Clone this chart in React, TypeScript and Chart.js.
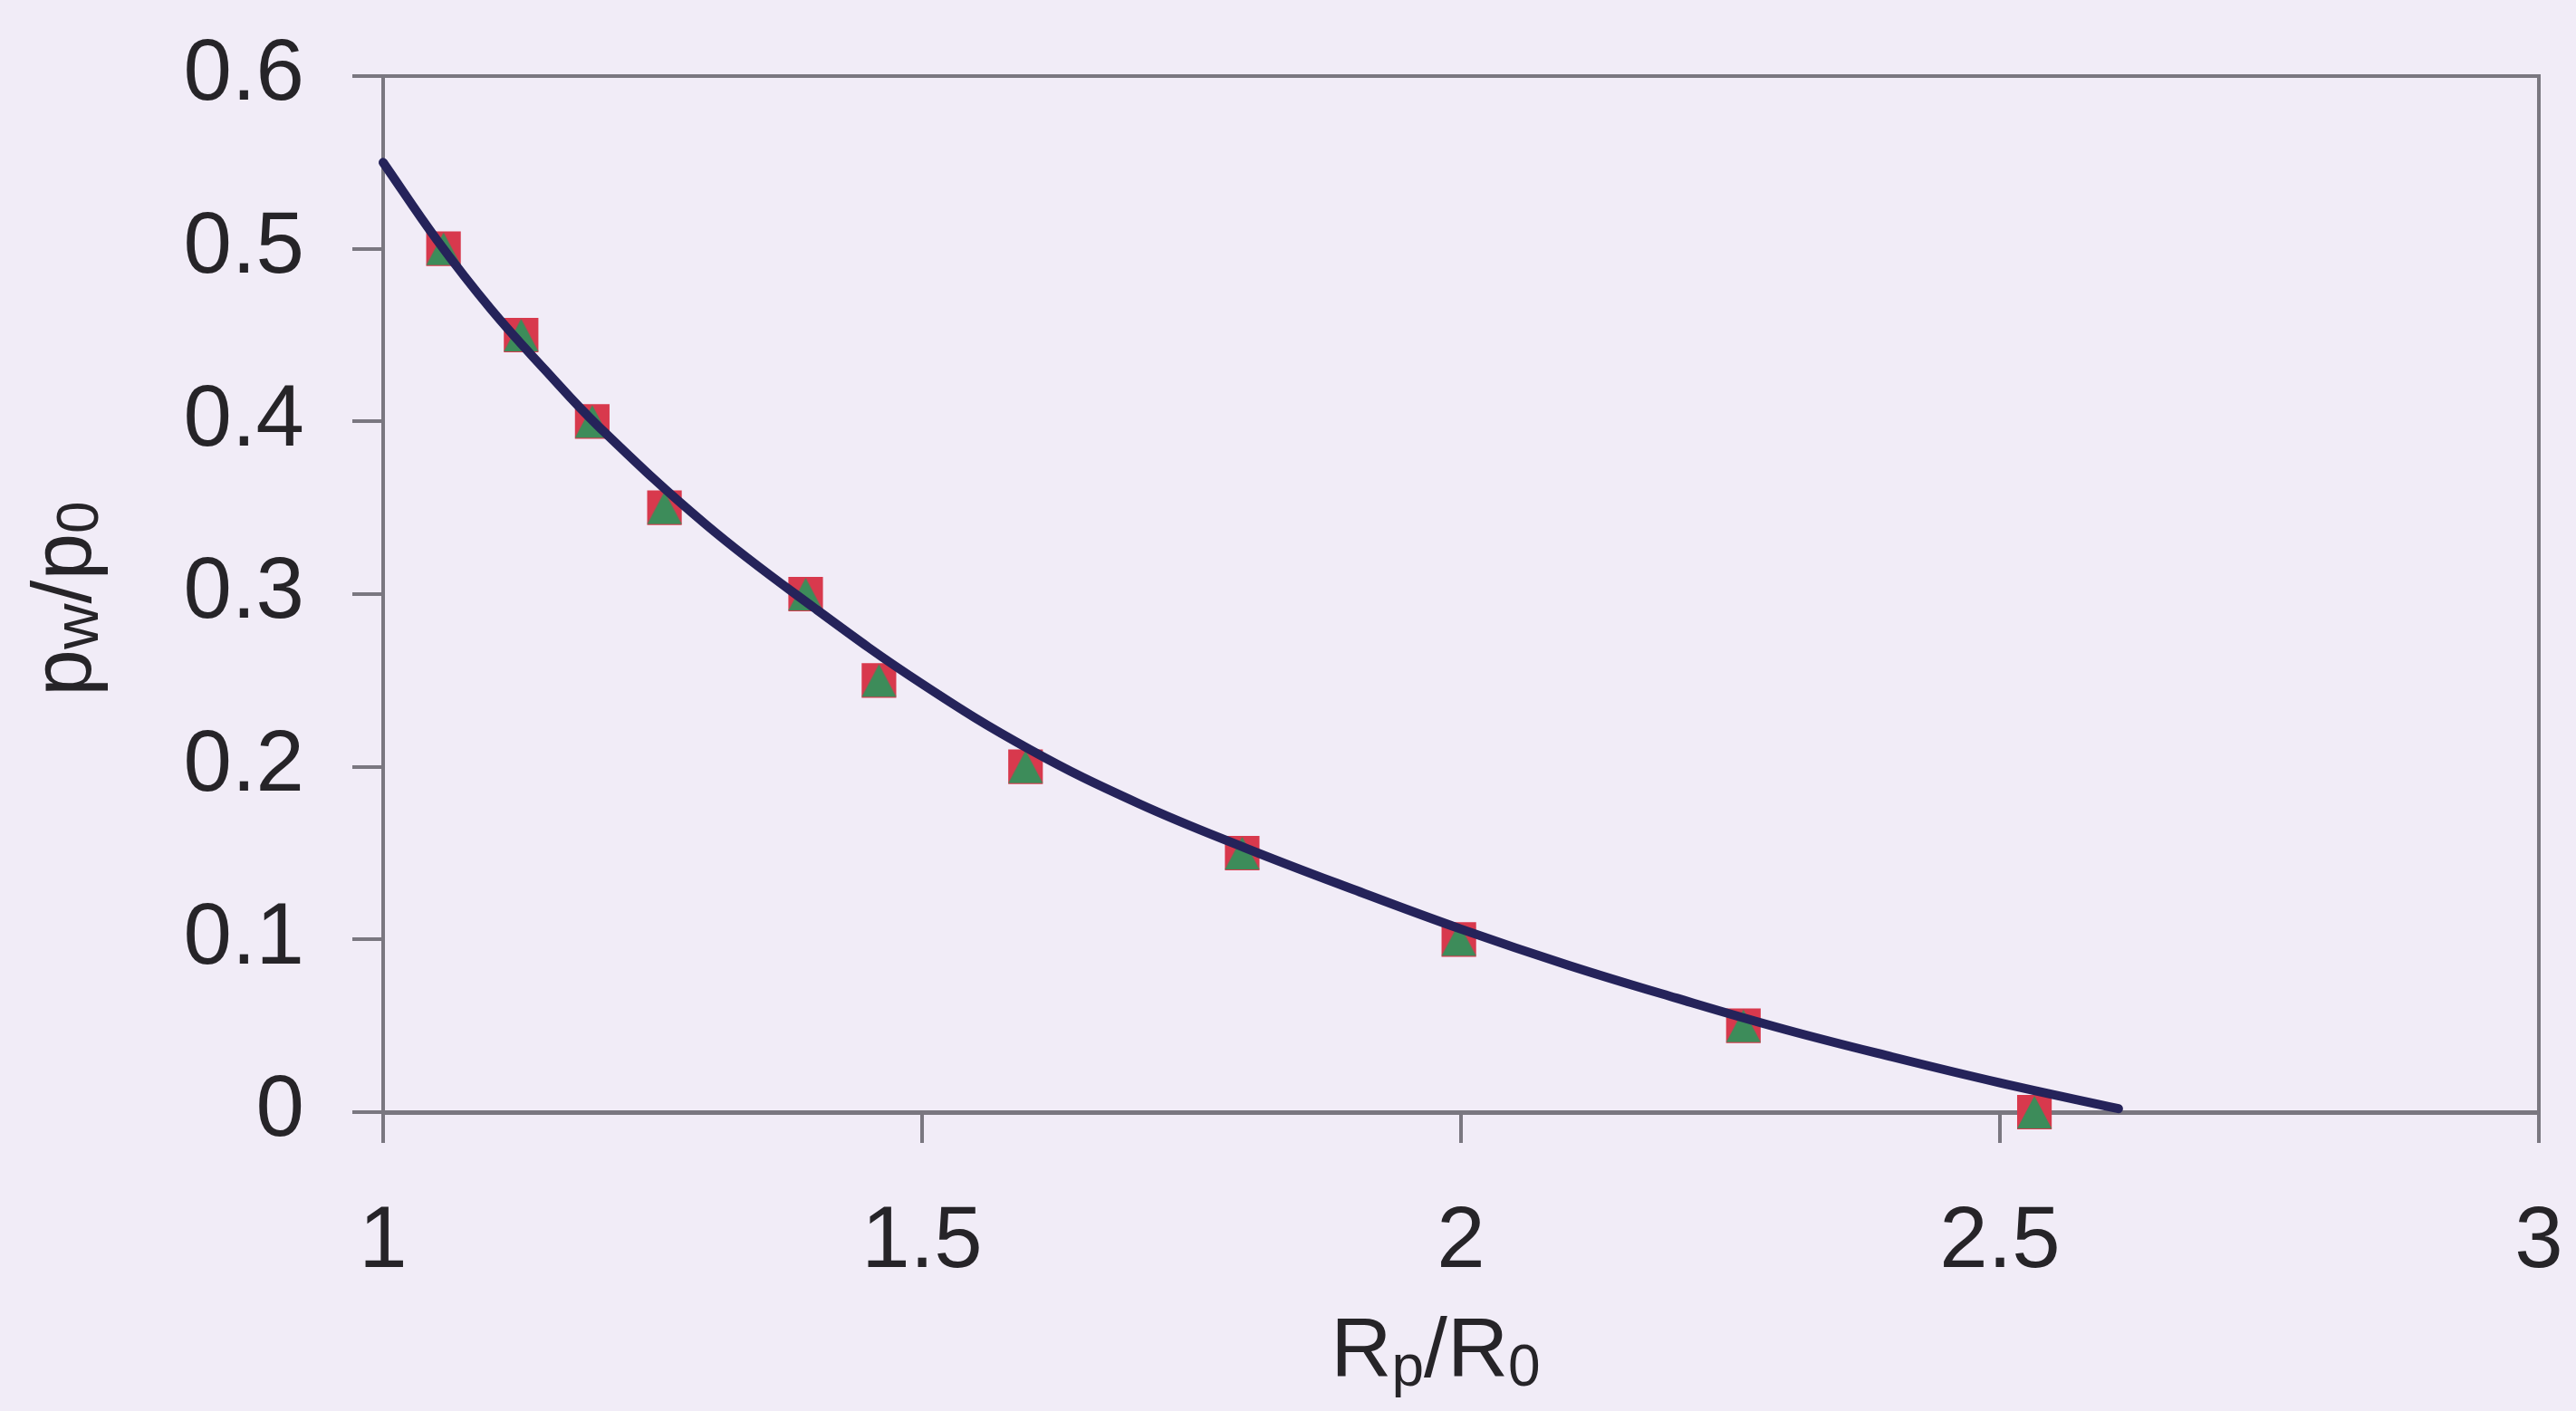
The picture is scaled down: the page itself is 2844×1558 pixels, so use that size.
import React, { useEffect, useRef } from "react";
import { Chart, registerables } from "chart.js";

Chart.register(...registerables);

// Fitted curve (R_p/R_0 -> p_w/p_0)
const curveX = [1.0, 1.05, 1.1, 1.15, 1.2, 1.3, 1.4, 1.5, 1.6, 1.7, 1.8, 1.9, 2.0, 2.1, 2.2, 2.3, 2.4, 2.5, 2.61];
const curveY = [0.55, 0.505, 0.465, 0.43, 0.397, 0.34, 0.292, 0.248, 0.21, 0.179, 0.153, 0.129, 0.106, 0.085, 0.066, 0.048, 0.032, 0.017, 0.002];

// Data points (two overlapping series: squares and triangles)
const pointX = [1.056, 1.128, 1.194, 1.261, 1.392, 1.46, 1.596, 1.797, 1.998, 2.262, 2.532];
const squareY = [0.5, 0.45, 0.4, 0.35, 0.3, 0.25, 0.2, 0.15, 0.1, 0.05, 0.0];
const triangleY = [0.5, 0.45, 0.4, 0.35, 0.3, 0.25, 0.2, 0.15, 0.1, 0.05, 0.0];

const xTicks = [1, 1.5, 2, 2.5, 3];
const yTicks = [0, 0.1, 0.2, 0.3, 0.4, 0.5, 0.6];

const BG = "#f1ecf7";
const AXIS = "#7a7780";
const TEXT = "#262428";
const FONT = "'Liberation Sans', Arial, sans-serif";

type Seg = { t: string; size: number; dy: number };
const xTitle: Seg[] = [
  { t: "R", size: 93, dy: 0 },
  { t: "p", size: 64, dy: 10 },
  { t: "/", size: 93, dy: 0 },
  { t: "R", size: 93, dy: 0 },
  { t: "0", size: 64, dy: 10 },
];
const yTitle: Seg[] = [
  { t: "p", size: 93, dy: 0 },
  { t: "w", size: 70, dy: 8 },
  { t: "/", size: 93, dy: 0 },
  { t: "p", size: 93, dy: 0 },
  { t: "0", size: 64, dy: 8 },
];

function drawSegs(ctx: CanvasRenderingContext2D, segs: Seg[], cx: number, baseY: number) {
  let total = 0;
  const widths = segs.map((s) => {
    ctx.font = `${s.size}px ${FONT}`;
    const w = ctx.measureText(s.t).width;
    total += w;
    return w;
  });
  let x = cx - total / 2;
  ctx.textAlign = "left";
  ctx.textBaseline = "alphabetic";
  segs.forEach((s, i) => {
    ctx.font = `${s.size}px ${FONT}`;
    ctx.fillText(s.t, x, baseY + s.dy);
    x += widths[i];
  });
}

function makeTriangle(): HTMLCanvasElement {
  const c = document.createElement("canvas");
  c.width = 40;
  c.height = 38;
  const g = c.getContext("2d")!;
  g.fillStyle = "#3d8c5a";
  g.beginPath();
  g.moveTo(20, 1);
  g.lineTo(39, 37);
  g.lineTo(1, 37);
  g.closePath();
  g.fill();
  return c;
}

const decorPlugin = {
  id: "decor",
  beforeDraw(chart: any) {
    const ctx = chart.ctx as CanvasRenderingContext2D;
    ctx.save();
    ctx.fillStyle = BG;
    ctx.fillRect(0, 0, chart.width, chart.height);
    ctx.restore();
  },
  beforeDatasetsDraw(chart: any) {
    const ctx = chart.ctx as CanvasRenderingContext2D;
    const a = chart.chartArea;
    ctx.save();
    ctx.strokeStyle = AXIS;
    ctx.lineWidth = 4;
    ctx.beginPath();
    ctx.moveTo(a.left, a.top);
    ctx.lineTo(a.right, a.top);
    ctx.lineTo(a.right, a.bottom);
    ctx.stroke();
    ctx.restore();
  },
  afterDraw(chart: any) {
    const ctx = chart.ctx as CanvasRenderingContext2D;
    const a = chart.chartArea;
    ctx.save();
    ctx.fillStyle = TEXT;
    drawSegs(ctx, xTitle, (a.left + a.right) / 2 - 28, 1520);
    ctx.translate(100, (a.top + a.bottom) / 2 + 5);
    ctx.rotate(-Math.PI / 2);
    drawSegs(ctx, yTitle, 0, 0);
    ctx.restore();
  },
};

export default function App() {
  const ref = useRef<HTMLCanvasElement | null>(null);

  useEffect(() => {
    document.body.style.margin = "0";
    const canvas = ref.current!;
    const tri = makeTriangle();
    const chart = new Chart(canvas, {
      type: "scatter",
      data: {
        datasets: [
          {
            label: "fit",
            data: curveX.map((x, i) => ({ x, y: curveY[i] })),
            showLine: true,
            borderColor: "#25235a",
            borderWidth: 10,
            borderCapStyle: "round",
            tension: 0.4,
            pointRadius: 0,
            order: 0,
          } as any,
          {
            label: "triangles",
            data: pointX.map((x, i) => ({ x, y: triangleY[i] })),
            pointStyle: tri,
            pointRadius: 20,
            showLine: false,
            order: 1,
          } as any,
          {
            label: "squares",
            data: pointX.map((x, i) => ({ x, y: squareY[i] })),
            pointStyle: "rect",
            pointRadius: 27,
            backgroundColor: "#d8394d",
            borderColor: "#d8394d",
            borderWidth: 0,
            showLine: false,
            order: 2,
          } as any,
        ],
      },
      options: {
        responsive: false,
        animation: false,
        clip: false as any,
        layout: { autoPadding: false, padding: { top: 84, right: 41, left: 0, bottom: 0 } } as any,
        plugins: {
          legend: { display: false },
          tooltip: { enabled: false },
          title: { display: false },
        },
        scales: {
          x: {
            type: "linear",
            min: 1,
            max: 3,
            afterFit: (s: any) => {
              s.height = 330;
              s.paddingLeft = 0;
              s.paddingRight = 0;
              s.paddingTop = 0;
              s.paddingBottom = 0;
            },
            afterBuildTicks: (s: any) => {
              s.ticks = xTicks.map((v) => ({ value: v }));
            },
            ticks: {
              color: TEXT,
              font: { family: FONT, size: 96 },
              padding: 53,
              maxRotation: 0,
              autoSkip: false,
              callback: (v: any) => String(v),
            },
            grid: {
              drawOnChartArea: false,
              drawTicks: true,
              tickLength: 34,
              color: AXIS,
              lineWidth: 4,
            },
            border: { display: true, color: AXIS, width: 5 },
          },
          y: {
            type: "linear",
            min: 0,
            max: 0.6,
            afterFit: (s: any) => {
              s.width = 423;
              s.paddingLeft = 0;
              s.paddingRight = 0;
              s.paddingTop = 0;
              s.paddingBottom = 0;
            },
            afterBuildTicks: (s: any) => {
              s.ticks = yTicks.map((v) => ({ value: v }));
            },
            ticks: {
              color: TEXT,
              font: { family: FONT, size: 96 },
              padding: 53,
              autoSkip: false,
              callback: (v: any) => String(Math.round(v * 10) / 10),
            },
            grid: {
              drawOnChartArea: false,
              drawTicks: true,
              tickLength: 34,
              color: AXIS,
              lineWidth: 4,
            },
            border: { display: true, color: AXIS, width: 4 },
          },
        },
      },
      plugins: [decorPlugin],
    });
    return () => chart.destroy();
  }, []);

  return (
    <div style={{ position: "fixed", left: 0, top: 0, width: 2844, height: 1558, background: BG }}>
      <canvas ref={ref} width={2844} height={1558} style={{ display: "block" }} />
    </div>
  );
}
